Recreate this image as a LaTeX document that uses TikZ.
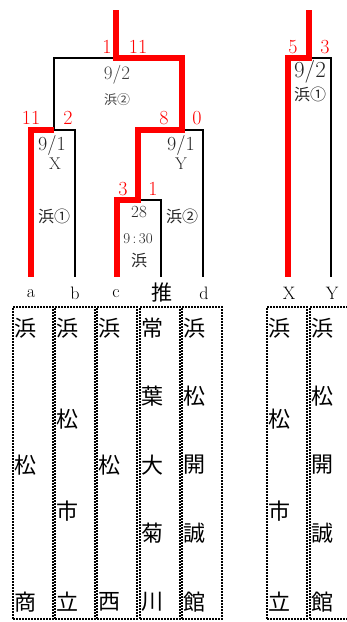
\documentclass[tikz,border=0pt]{standalone}
\usepackage{fontspec}
\newfontfamily\cjk{Noto Sans CJK JP}
\usepackage{tikz}
\usetikzlibrary{positioning, calc}

\newcommand{\teamcol}[4]{%
  \node[teambox] (#1) at (#2+20,463) {};
  \foreach \ch [count=\i from 0] in {#4} {
    \node[teamchar] (#1-\i) at (#2+1.5,{328+\i*274/(#3-1)}) {\ch};
  }
}

\begin{document}
\begin{tikzpicture}[x=1pt, y=-1pt,
  win/.style={line width=6pt, red, line join=miter},
  lose/.style={line width=2.6pt, black},
  score/.style={red, inner sep=0pt, font=\fontsize{20}{20}\selectfont},
  info/.style={black!85, inner sep=0pt},
  leaf/.style={inner sep=0pt, font=\fontsize{18}{18}\selectfont},
  teambox/.style={draw, line width=1.6pt, dash pattern=on 1.6pt off 1.4pt,
    minimum width=40pt, minimum height=312pt, inner sep=0pt},
  teamchar/.style={anchor=west, inner sep=0pt, font=\cjk\fontsize{22}{22}\selectfont}]
\useasboundingbox (0,0) rectangle (346,622);
% bracket points, left block
\coordinate (top) at (116,10);
\coordinate (fin) at (116,58);
\coordinate (fl) at (54,58);
\coordinate (fr) at (182,58);
\coordinate (sl) at (54,130);
\coordinate (sr) at (182,130);
\coordinate (sc) at (138,130);
\coordinate (qc) at (138,200);
\coordinate (a) at (31,277);
\coordinate (b) at (75,277);
\coordinate (c) at (117,277);
\coordinate (e) at (161,277);
\coordinate (d) at (203,277);
% bracket points, right block
\coordinate (top2) at (309,10);
\coordinate (fin2) at (309,58);
\coordinate (x) at (288,277);
\coordinate (y) at (331,277);
% losing lines black
\draw[lose] (fin) -- (fl) -- (sl) -| (b);
\draw[lose] (sr) -| (d);
\draw[lose] (qc) -| (e);
\draw[lose] (fin2) -| (y);
% winning lines red
\draw[win] (top) -- (fin) -- (fr) -- (sr) -- (sc) -- (qc) -| (c);
\draw[win] (sl) -| (a);
\draw[win] (top2) -- (fin2) -| (x);
% scores
\node[score] (s1) at (107,47) {1};
\node[score] (s2) at (138,47) {11};
\node[score] (s3) at (31,118) {11};
\node[score] (s4) at (68,118) {2};
\node[score] (s5) at (164,118) {8};
\node[score] (s6) at (197,118) {0};
\node[score] (s7) at (123,189) {3};
\node[score] (s8) at (153,189) {1};
\node[score] (s9) at (293,47) {5};
\node[score] (s10) at (325,47) {3};
% dates and grounds
\node[info, black!75, font=\fontsize{19}{19}\selectfont] (d1) at (117,75) {9/2};
\node[info, black!75, font=\cjk\fontsize{13}{13}\selectfont] (g1) at (117,100) {浜②};
\node[info, font=\fontsize{20}{20}\selectfont] (d2) at (52,145) {9/1};
\node[info, font=\fontsize{17}{17}\selectfont] (m2) at (55,164) {X};
\node[info, font=\cjk\fontsize{16}{16}\selectfont] (g2) at (54,216) {浜①};
\node[info, font=\fontsize{20}{20}\selectfont] (d3) at (181,145) {9/1};
\node[info, font=\fontsize{17}{17}\selectfont] (m3) at (181,164) {Y};
\node[info, font=\cjk\fontsize{16}{16}\selectfont] (g3) at (182,216) {浜②};
\node[info, font=\fontsize{17}{17}\selectfont] (d4) at (139,212) {28};
\node[info, font=\fontsize{15}{15}\selectfont] (t4) at (138,239) {9\,:\,30};
\node[info, font=\cjk\fontsize{16}{16}\selectfont] (g4) at (139,260) {浜};
\node[info, font=\fontsize{23}{23}\selectfont] (d5) at (310,72) {9/2};
\node[info, font=\cjk\fontsize{16}{16}\selectfont] (g5) at (310,94) {浜①};
% leaf labels
\node[leaf] (la) at (31,294) {a};
\node[leaf] (lb) at (75,293) {b};
\node[leaf] (lc) at (116,294) {c};
\node[leaf, font=\cjk\fontsize{21}{21}\selectfont] (le) at (162,292) {推};
\node[leaf] (ld) at (204,293) {d};
\node[leaf] (lx) at (289,293) {X};
\node[leaf] (ly) at (332,293) {Y};
% team columns
\teamcol{ta}{13}{3}{浜,松,商}
\teamcol{tb}{55}{4}{浜,松,市,立}
\teamcol{tc}{97}{3}{浜,松,西}
\teamcol{te}{140}{5}{常,葉,大,菊,川}
\teamcol{td}{182}{5}{浜,松,開,誠,館}
\teamcol{tx}{267}{4}{浜,松,市,立}
\teamcol{ty}{310}{5}{浜,松,開,誠,館}
\end{tikzpicture}
\end{document}
